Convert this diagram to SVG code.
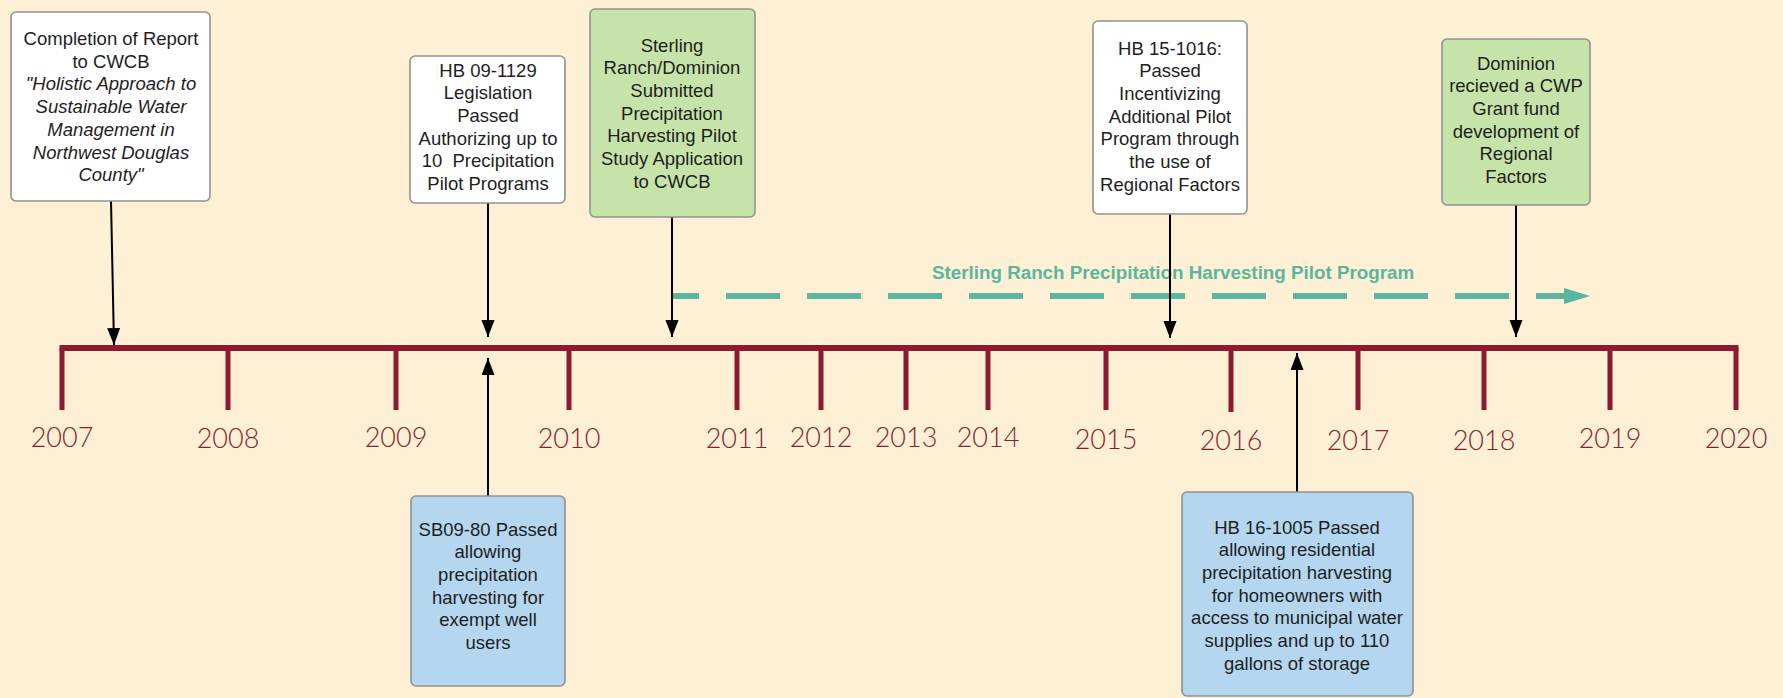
<svg xmlns="http://www.w3.org/2000/svg" width="1783" height="698" viewBox="0 0 1783 698">
<style>
.bg{fill:#fdf0d5}
.box{stroke:#929292;stroke-width:1.6}
.white{fill:#ffffff}
.green{fill:#c6e4a9}
.blue{fill:#b4d6ef}
.t{font-family:"Liberation Sans",Arial,sans-serif;font-size:18.5px;fill:#1e1e1e;text-anchor:middle}
.it{font-style:italic}
.tl{stroke:#8e1a30;stroke-width:6;fill:none}
.tick{stroke:#8e1a30;stroke-width:5}
.yr{font-family:Lato,"Liberation Sans",Arial,sans-serif;font-weight:300;font-size:27px;fill:#8a1f31;text-anchor:middle}
.conn{stroke:#000;stroke-width:2;fill:none}
.teal{stroke:#5bb5a0;stroke-width:6;fill:none;stroke-dasharray:54 27;stroke-dashoffset:28}
.tealtxt{font-family:"Liberation Sans",Arial,sans-serif;font-size:18.8px;font-weight:bold;fill:#5bb5a0}
</style>
<defs>
<marker id="ah" markerUnits="userSpaceOnUse" markerWidth="18" markerHeight="14" refX="17" refY="6.5" orient="auto">
<path d="M0,0 L17,6.5 L0,13 z" fill="#000"/>
</marker>
</defs>
<rect class="bg" x="0" y="0" width="1783" height="698"/>

<g id="timeline">
<line class="tl" x1="59.5" y1="348" x2="1738.5" y2="348"/>
<g class="tick">
<line x1="62" y1="348" x2="62" y2="410"/>
<line x1="228" y1="348" x2="228" y2="410"/>
<line x1="396" y1="348" x2="396" y2="410"/>
<line x1="569" y1="348" x2="569" y2="410"/>
<line x1="737" y1="348" x2="737" y2="410"/>
<line x1="821" y1="348" x2="821" y2="410"/>
<line x1="906" y1="348" x2="906" y2="410"/>
<line x1="988" y1="348" x2="988" y2="410"/>
<line x1="1106" y1="348" x2="1106" y2="410"/>
<line x1="1231" y1="348" x2="1231" y2="412"/>
<line x1="1358" y1="348" x2="1358" y2="410"/>
<line x1="1484" y1="348" x2="1484" y2="410"/>
<line x1="1610" y1="348" x2="1610" y2="410"/>
<line x1="1736" y1="348" x2="1736" y2="410"/>
</g>
<text class="yr" x="62" y="447">2007</text>
<text class="yr" x="228" y="448">2008</text>
<text class="yr" x="396" y="447">2009</text>
<text class="yr" x="569" y="448">2010</text>
<text class="yr" x="737" y="448">2011</text>
<text class="yr" x="821" y="447">2012</text>
<text class="yr" x="906" y="447">2013</text>
<text class="yr" x="988" y="447">2014</text>
<text class="yr" x="1106" y="449">2015</text>
<text class="yr" x="1231" y="450">2016</text>
<text class="yr" x="1358" y="450">2017</text>
<text class="yr" x="1484" y="450">2018</text>
<text class="yr" x="1610" y="448">2019</text>
<text class="yr" x="1736" y="448">2020</text>
</g>

<g id="pilot-program">
<line class="teal" x1="673" y1="296" x2="1565" y2="296"/>
<polygon points="1564,288 1590,296 1564,304" fill="#5bb5a0"/>
<text class="tealtxt" x="932" y="278.5">Sterling Ranch Precipitation Harvesting Pilot Program</text>
</g>

<g id="connectors">
<line class="conn" x1="111" y1="201" x2="114" y2="345" marker-end="url(#ah)"/>
<line class="conn" x1="488" y1="203" x2="488" y2="337" marker-end="url(#ah)"/>
<line class="conn" x1="672" y1="217" x2="672" y2="337" marker-end="url(#ah)"/>
<line class="conn" x1="1170" y1="214" x2="1170" y2="338" marker-end="url(#ah)"/>
<line class="conn" x1="1516" y1="205" x2="1516" y2="337" marker-end="url(#ah)"/>
<line class="conn" x1="488" y1="496" x2="488" y2="358" marker-end="url(#ah)"/>
<line class="conn" x1="1297" y1="492" x2="1297" y2="353" marker-end="url(#ah)"/>
</g>

<g id="report-2007">
<rect class="box white" x="11" y="12" width="199" height="189" rx="5"/>
<text class="t" x="111" y="45">Completion of Report<tspan x="111" dy="22.7">to CWCB</tspan><tspan class="it" x="111" dy="22.7">"Holistic Approach to</tspan><tspan class="it" x="111" dy="22.7">Sustainable Water</tspan><tspan class="it" x="111" dy="22.7">Management in</tspan><tspan class="it" x="111" dy="22.7">Northwest Douglas</tspan><tspan class="it" x="111" dy="22.7">County"</tspan></text>
</g>

<g id="hb-09-1129">
<rect class="box white" x="410" y="56" width="155" height="147" rx="5"/>
<text class="t" x="488" y="76.5">HB 09-1129<tspan x="488" dy="22.7">Legislation</tspan><tspan x="488" dy="22.7">Passed</tspan><tspan x="488" dy="22.7">Authorizing up to</tspan><tspan x="488" dy="22.7" xml:space="preserve">10  Precipitation</tspan><tspan x="488" dy="22.7">Pilot Programs</tspan></text>
</g>

<g id="sterling-application">
<rect class="box green" x="590" y="9" width="165" height="208" rx="5"/>
<text class="t" x="672" y="51.5">Sterling<tspan x="672" dy="22.7">Ranch/Dominion</tspan><tspan x="672" dy="22.7">Submitted</tspan><tspan x="672" dy="22.7">Precipitation</tspan><tspan x="672" dy="22.7">Harvesting Pilot</tspan><tspan x="672" dy="22.7">Study Application</tspan><tspan x="672" dy="22.7">to CWCB</tspan></text>
</g>

<g id="hb-15-1016">
<rect class="box white" x="1093" y="21" width="154" height="193" rx="5"/>
<text class="t" x="1170" y="54.5">HB 15-1016:<tspan x="1170" dy="22.7">Passed</tspan><tspan x="1170" dy="22.7">Incentivizing</tspan><tspan x="1170" dy="22.7">Additional Pilot</tspan><tspan x="1170" dy="22.7">Program through</tspan><tspan x="1170" dy="22.7">the use of</tspan><tspan x="1170" dy="22.7">Regional Factors</tspan></text>
</g>

<g id="dominion-cwp">
<rect class="box green" x="1442" y="39" width="148" height="166" rx="5"/>
<text class="t" x="1516" y="69.5">Dominion<tspan x="1516" dy="22.7">recieved a CWP</tspan><tspan x="1516" dy="22.7">Grant fund</tspan><tspan x="1516" dy="22.7">development of</tspan><tspan x="1516" dy="22.7">Regional</tspan><tspan x="1516" dy="22.7">Factors</tspan></text>
</g>

<g id="sb09-80">
<rect class="box blue" x="411" y="496" width="154" height="190" rx="5"/>
<text class="t" x="488" y="535.5">SB09-80 Passed<tspan x="488" dy="22.7">allowing</tspan><tspan x="488" dy="22.7">precipitation</tspan><tspan x="488" dy="22.7">harvesting for</tspan><tspan x="488" dy="22.7">exempt well</tspan><tspan x="488" dy="22.7">users</tspan></text>
</g>

<g id="hb-16-1005">
<rect class="box blue" x="1182" y="492" width="231" height="204" rx="5"/>
<text class="t" x="1297" y="533.5">HB 16-1005 Passed<tspan x="1297" dy="22.7">allowing residential</tspan><tspan x="1297" dy="22.7">precipitation harvesting</tspan><tspan x="1297" dy="22.7">for homeowners with</tspan><tspan x="1297" dy="22.7">access to municipal water</tspan><tspan x="1297" dy="22.7">supplies and up to 110</tspan><tspan x="1297" dy="22.7">gallons of storage</tspan></text>
</g>
</svg>
